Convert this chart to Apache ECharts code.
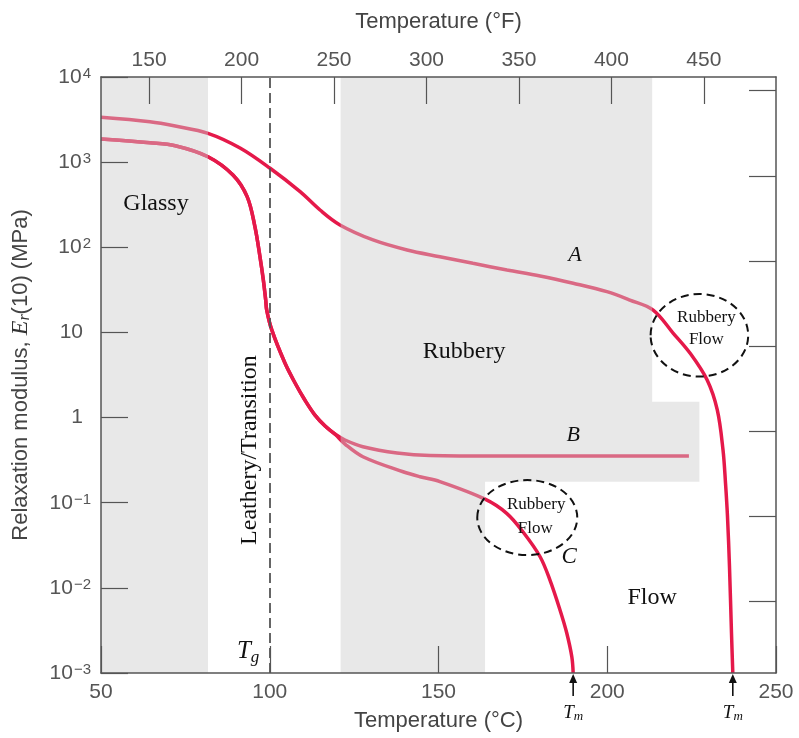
<!DOCTYPE html>
<html><head><meta charset="utf-8">
<script src="https://cdn.jsdelivr.net/npm/echarts@6/dist/echarts.min.js"></script>
<style>html,body{margin:0;padding:0;background:#fff}#c{width:799px;height:738px}</style>
</head><body><div id="c"></div>
<script>
// ---- data (temperature in °C, relaxation modulus in MPa) ----
const curveA_T = [50, 64.5, 72, 81.7, 91.2, 100.1, 109.0, 114.9, 120.8, 130.6, 140.7, 150.4, 160.2, 170.3, 180.1, 189.9, 199.9, 206.7, 213.6, 219.5, 224.5, 229.6, 232.6, 234.3, 235.04, 235.63, 236.22, 236.81, 237.2];
const curveA_E = [3365, 2985, 2656, 2182, 1466, 847, 450, 274, 183, 122, 93, 77.5, 64.8, 54.1, 46, 37.8, 30.1, 24, 18.3, 9.84, 5.73, 2.76, 1.23, 0.416, 0.17, 0.0685, 0.0177, 0.00295, 0.001];
const sharedBC_T = [50, 64.5, 72, 81.7, 89.1, 93.3, 95.6, 97.1, 98.1, 98.8, 99.1, 100.6, 104.5, 107.5, 110.4, 113.4, 116.4, 119.3];
const sharedBC_E = [1871, 1690, 1560, 1158, 706, 393, 175, 77.5, 41.3, 24, 18.3, 10.7, 4.37, 2.55, 1.61, 1.07, 0.796, 0.641];
const curveB_T = [122.3, 127.6, 137.7, 147.5, 168, 224.2];
const curveB_E = [0.545, 0.455, 0.384, 0.358, 0.353, 0.353];
const curveC_T = [122.3, 127.6, 139.5, 144.5, 150.4, 163.8, 170.2, 175, 180.1, 183, 186, 188, 189.5, 189.9];
const curveC_E = [0.489, 0.347, 0.231, 0.202, 0.177, 0.11, 0.075, 0.0456, 0.0232, 0.0124, 0.0055, 0.00295, 0.00155, 0.001];
const yTickValues = [1e-3, 1e-2, 1e-1, 1, 10, 100, 1e3, 1e4];
const xTicksC = [50, 100, 150, 200, 250];
const xTicksF = [150, 200, 250, 300, 350, 400, 450];
const psiTicks = [1, 10, 100, 1e3, 1e4, 1e5, 1e6];
const glassyT = [50, 81.7, 81.7, 50];
const glassyE = [1e4, 1e4, 1e-3, 1e-3];
const rubberyT = [121, 213.3, 213.3, 227.3, 227.3, 163.8, 163.8, 121];
const rubberyE = [1e4, 1e4, 1.535, 1.535, 0.1766, 0.1766, 1e-3, 1e-3];
const tgT = 100;
const tmT = [189.9, 237.2];

const zip = (a, b) => a.map((v, i) => [v, b[i]]);
const regions = [zip(glassyT, glassyE), zip(rubberyT, rubberyE)];

const RED = '#e5194a';
const AX = '#555';
const SANS = '"Liberation Sans", Arial, sans-serif';
const SERIF = '"Liberation Serif", "Times New Roman", serif';

const chart = echarts.init(document.getElementById('c'), null, {renderer: 'canvas'});

const lineBase = {
  type: 'line', showSymbol: false, smooth: 0.35, silent: true,
  lineStyle: {color: RED, width: 3.5}, z: 2, clip: true
};

const option = {
  animation: false,
  backgroundColor: '#fff',
  grid: {left: 101, right: 23, top: 77, bottom: 65},
  xAxis: [
    {
      type: 'value', position: 'bottom', min: 50, max: 250, z: 5,
      name: 'Temperature (°C)', nameLocation: 'middle', nameGap: 37,
      nameTextStyle: {fontFamily: SANS, fontSize: 22, color: '#444'},
      axisLine: {show: true, lineStyle: {color: AX, width: 1.5}},
      axisTick: {show: true, inside: true, length: 27, customValues: xTicksC, lineStyle: {color: AX, width: 1.2}},
      axisLabel: {customValues: xTicksC, fontFamily: SANS, fontSize: 21, color: '#555', margin: 9},
      splitLine: {show: false}
    },
    {
      type: 'value', position: 'top', min: 124, max: 489, z: 5,
      name: 'Temperature (°F)', nameLocation: 'middle', nameGap: 44,
      nameTextStyle: {fontFamily: SANS, fontSize: 22, color: '#444'},
      axisLine: {show: true, lineStyle: {color: AX, width: 1.5}},
      axisTick: {show: true, inside: true, length: 27, customValues: xTicksF, lineStyle: {color: AX, width: 1.2}},
      axisLabel: {customValues: xTicksF, fontFamily: SANS, fontSize: 21, color: '#555', margin: 6},
      splitLine: {show: false}
    }
  ],
  yAxis: [
    {
      type: 'log', logBase: 10, min: 1e-3, max: 1e4, position: 'left', z: 5,
      name: 'Relaxation modulus, {it|E}{sub|r}(10) (MPa)', nameLocation: 'middle', nameGap: 68,
      nameTextStyle: {
        fontFamily: SANS, fontSize: 22, color: '#444',
        rich: {
          it: {fontFamily: SERIF, fontStyle: 'italic', fontSize: 24, color: '#333'},
          sub: {fontFamily: SERIF, fontStyle: 'italic', fontSize: 16, color: '#333', verticalAlign: 'bottom', padding: [9, 0, 0, 0]}
        }
      },
      axisLine: {show: true, lineStyle: {color: AX, width: 1.5}},
      axisTick: {show: true, inside: true, length: 27, customValues: yTickValues, lineStyle: {color: AX, width: 1.2}},
      axisLabel: {
        customValues: yTickValues, fontFamily: SANS, fontSize: 21, color: '#555', margin: 10,
        formatter: function (v) {
          const n = Math.round(Math.log10(v));
          if (n === 0) return '1{pad|}';
          if (n === 1) return '10{pad|}';
          return '10{sup|' + (n < 0 ? '\u2212' + (-n) : n) + '}';
        },
        rich: {
          sup: {fontFamily: SANS, fontSize: 15, color: '#555', verticalAlign: 'top', lineHeight: 14, padding: [0, 0, 0, 1]},
          pad: {width: 8}
        }
      },
      splitLine: {show: false}
    },
    {
      type: 'log', logBase: 10, min: 0.1450377, max: 1450377, position: 'right', z: 5,
      axisLine: {show: true, lineStyle: {color: AX, width: 1.5}},
      axisTick: {show: true, inside: true, length: 27, customValues: psiTicks, lineStyle: {color: AX, width: 1.2}},
      axisLabel: {show: false},
      splitLine: {show: false}
    }
  ],
  series: [
    Object.assign({}, lineBase, {
      name: 'A', data: zip(curveA_T, curveA_E),
      markLine: {
        silent: true, symbol: 'none', label: {show: false},
        lineStyle: {color: '#555', width: 1.8, type: [10, 5]},
        data: [{xAxis: tgT}]
      }
    }),
    Object.assign({}, lineBase, {name: 'B', data: zip(sharedBC_T.concat(curveB_T), sharedBC_E.concat(curveB_E))}),
    Object.assign({}, lineBase, {name: 'C', data: zip(sharedBC_T.concat(curveC_T), sharedBC_E.concat(curveC_E))}),
    {
      type: 'custom', name: 'regions', z: 3, silent: true,
      data: regions.map((r, i) => [r[0][0], r[0][1], i]),
      renderItem: function (params, api) {
        const pts = regions[params.dataIndex].map(p => api.coord(p));
        return {type: 'polygon', shape: {points: pts}, style: {fill: 'rgba(204,204,204,0.45)', stroke: null}};
      }
    }
  ]
};
chart.setOption(option);

// ---- annotations positioned from data coordinates ----
const px = (T, E) => chart.convertToPixel({xAxisIndex: 0, yAxisIndex: 0}, [T, E]);
const g = [];
function txt(T, E, text, font, extra) {
  const p = px(T, E);
  g.push(Object.assign({
    type: 'text', x: p[0], y: p[1], z: 100, silent: true,
    style: {text: text, font: font, fill: '#111', align: 'center', verticalAlign: 'middle'}
  }, extra || {}));
}
txt(66.3, 322, 'Glassy', '24px ' + SERIF);
txt(157.6, 5.89, 'Rubbery', '24px ' + SERIF);
txt(213.3, 0.0076, 'Flow', '24px ' + SERIF);
txt(94.1, 0.416, 'Leathery/Transition', '24px ' + SERIF, {rotation: Math.PI / 2});
txt(190.4, 81.2, 'A', 'italic 22px ' + SERIF);
txt(189.9, 0.624, 'B', 'italic 22px ' + SERIF);
txt(188.7, 0.023, 'C', 'italic 23px ' + SERIF);

// Tg label
(function () {
  const p = px(93.6, 0.00181);
  g.push({type: 'text', x: p[0], y: p[1], z: 100, silent: true,
    style: {text: '{t|T}{s|g}', align: 'center', verticalAlign: 'middle',
      rich: {t: {font: 'italic 25px ' + SERIF, fill: '#111'},
             s: {font: 'italic 17px ' + SERIF, fill: '#111', padding: [12, 0, 0, 0]}}}});
})();

// dashed ellipses with "Rubbery Flow"
function ell(T, E, rx, ry, dx1, dy1, dx2, dy2) {
  const p = px(T, E);
  g.push({type: 'ellipse', z: 100, silent: true, shape: {cx: p[0], cy: p[1], rx: rx, ry: ry},
    style: {fill: 'none', stroke: '#111', lineWidth: 2, lineDash: [8, 5]}});
  g.push({type: 'text', x: p[0] + dx1, y: p[1] + dy1, z: 101, silent: true,
    style: {text: 'Rubbery', font: '17px ' + SERIF, fill: '#111', align: 'center', verticalAlign: 'middle'}});
  g.push({type: 'text', x: p[0] + dx2, y: p[1] + dy2, z: 101, silent: true,
    style: {text: 'Flow', font: '17px ' + SERIF, fill: '#111', align: 'center', verticalAlign: 'middle'}});
}
ell(227.3, 9.25, 48.8, 41.3, 7, -18, 7, 4);
ell(176.3, 0.067, 50, 37.5, 9, -12.5, 8, 11);

// Tm arrows below the axis
tmT.forEach(function (t) {
  const p = px(t, 1e-3);
  const x = p[0], y0 = p[1];
  g.push({type: 'line', z: 100, silent: true, shape: {x1: x, y1: y0 + 23, x2: x, y2: y0 + 7}, style: {stroke: '#111', lineWidth: 1.6}});
  g.push({type: 'polygon', z: 100, silent: true, shape: {points: [[x, y0 + 1], [x - 4, y0 + 10], [x + 4, y0 + 10]]}, style: {fill: '#111'}});
  g.push({type: 'text', x: x, y: y0 + 40, z: 100, silent: true,
    style: {text: '{t|T}{s|m}', align: 'center', verticalAlign: 'middle',
      rich: {t: {font: 'italic 19px ' + SERIF, fill: '#111'},
             s: {font: 'italic 13px ' + SERIF, fill: '#111', padding: [8, 0, 0, 0]}}}});
});

chart.setOption({graphic: {elements: g}});
</script>
</body></html>
